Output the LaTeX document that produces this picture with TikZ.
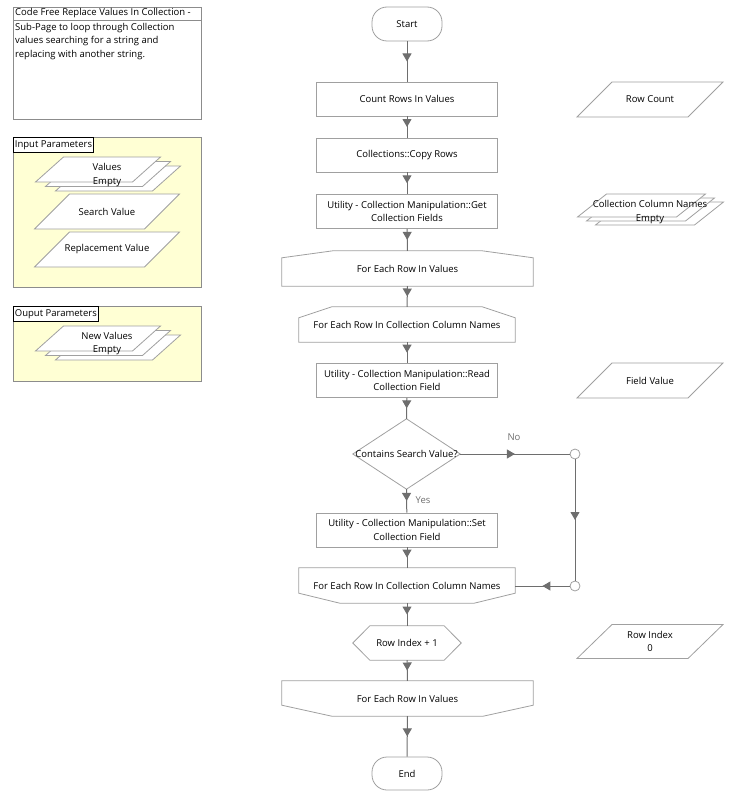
\documentclass[tikz,border=0pt]{standalone}
\usepackage{fontspec}
\setmainfont{Open Sans}
\usetikzlibrary{calc,decorations.markings,arrows.meta}
\definecolor{shp}{HTML}{A0A0A0}
\definecolor{con}{HTML}{6E6E6E}
\definecolor{pane}{HTML}{FFFFD4}
\definecolor{frm}{HTML}{8C8C8C}
\pgfdeclarelayer{bg}
\pgfdeclarelayer{shapes}
\pgfsetlayers{bg,shapes,main}
\newcommand\plgram[6][outline]{%
  \draw[#1] ({#2-#4/2-#6/2},{#3+#5/2}) -- ({#2-#4/2+#6/2},{#3-#5/2}) -- ({#2+#4/2+#6/2},{#3-#5/2}) -- ({#2+#4/2-#6/2},{#3+#5/2}) -- cycle;}
\newcommand\plgstack[7]{%
  \plgram{#1+#6}{#2+#7}{#3}{#4}{#5}%
  \plgram{#1}{#2}{#3}{#4}{#5}%
  \plgram{#1-#6}{#2-#7}{#3}{#4}{#5}}
\tikzset{
  every node/.style={font=\fontsize{9.5}{13.5}\selectfont, text=black},
  box/.style={draw=shp, fill=white, line width=0.8pt, minimum width=181pt, minimum height=34pt, align=center, inner sep=0pt},
  ghost/.style={draw=none, inner sep=0pt, align=center},
  outline/.style={draw=shp, fill=white, line width=0.8pt},
  flow/.style={draw=con, line width=1pt, postaction={decorate},
    decoration={markings, mark=at position 0.5 with {\arrow{Triangle[width=9pt,length=8pt]}}}},
  joint/.style={draw=shp, fill=white, circle, minimum size=10pt, inner sep=0pt, line width=0.8pt},
  lbl/.style={text=con},
  panebox/.style={draw=frm, fill=pane, line width=0.8pt},
  tagbox/.style={draw=black, fill=white, line width=0.8pt, inner sep=1.5pt, anchor=north west, minimum height=15pt},
}
\begin{document}
\begin{tikzpicture}[x=1pt,y=-1pt]
\useasboundingbox (0,0) rectangle (736,800);
% description box
\draw[draw=frm, line width=0.8pt] (13,7) rectangle (201,119);
\draw[draw=frm, line width=0.8pt] (13,20) -- (201,20);
\node[ghost, anchor=west] (ttl) at (15,13.5) {Code Free Replace Values In Collection -};
\node[ghost, anchor=north west, align=left] (desc) at (15,23) {Sub-Page to loop through Collection\\values searching for a string and\\replacing with another string.};
% panes
\begin{pgfonlayer}{bg}
\draw[panebox] (13,137) rectangle (201,287);
\draw[panebox] (13,306) rectangle (201,381);
\end{pgfonlayer}
\node[tagbox] (intag) at (13,137) {Input Parameters};
\node[tagbox] (outtag) at (13,306) {Ouput Parameters};
% input / output data
\node[ghost] (vals) at (107,175) {Values\\Empty};
\node[ghost] (srch) at (107,211.5) {Search Value};
\node[ghost] (repl) at (107,249.5) {Replacement Value};
\node[ghost] (newv) at (107,343.5) {New Values\\Empty};
% right data items
\node[ghost] (rcount) at (650,99.5) {Row Count};
\node[ghost] (cnames) at (650,212) {Collection Column Names\\Empty};
\node[ghost] (fval) at (650,380.5) {Field Value};
\node[ghost] (ridx) at (650,641.5) {Row Index\\0};
% main flow
\node[box, minimum width=70pt, rounded corners=15pt] (start) at (407,24) {Start};
\node[box] (count) at (407,99) {Count Rows In Values};
\node[box] (copy) at (407,155) {Collections::Copy Rows};
\node[box] (getf) at (407,211.5) {Utility - Collection Manipulation::Get\\Collection Fields};
\node[ghost, minimum width=251pt, minimum height=35pt] (loopa) at (407.5,268.5) {For Each Row In Values};
\node[ghost, minimum width=216pt, minimum height=35pt] (loopb) at (407,324.5) {For Each Row In Collection Column Names};
\node[box] (readf) at (407,380.5) {Utility - Collection Manipulation::Read\\Collection Field};
\node[ghost, minimum width=107pt, minimum height=70pt] (dec) at (406.5,454) {};
\node[ghost] (dectxt) at (406.5,454) {Contains Search Value?};
\node[box] (setf) at (407,530) {Utility - Collection Manipulation::Set\\Collection Field};
\node[ghost, minimum width=216pt, minimum height=35pt] (loopbend) at (407,585.5) {For Each Row In Collection Column Names};
\node[ghost, minimum width=108pt, minimum height=34pt] (incr) at (407,643) {Row Index + 1};
\node[ghost, minimum width=251pt, minimum height=35pt] (loopaend) at (407.5,698.5) {For Each Row In Values};
\node[box, minimum width=70pt, minimum height=33pt, rounded corners=15pt] (finish) at (407,773.5) {End};
\node[joint] (c1) at (575,454) {};
\node[joint] (c2) at (575,586) {};
% shapes
\begin{pgfonlayer}{shapes}
\plgstack{108}{174}{97}{25}{28}{10}{4.5}
\plgram{107}{211.5}{110}{35}{35}
\plgram{107}{249.5}{110}{35}{35}
\plgstack{108}{343}{97}{25}{28}{10}{4.5}
\plgram{650}{99.5}{111}{35}{35}
\plgstack{650.5}{209.5}{99}{23}{29}{9}{4}
\plgram{650}{380.5}{111}{35}{35}
\plgram{650}{641.5}{111}{34}{35}
\draw[outline] (loopa.south west) -- ($(loopa.north west)+(0,7)$) -- ($(loopa.north west)+(51,0)$) -- ($(loopa.north east)+(-51,0)$) -- ($(loopa.north east)+(0,7)$) -- (loopa.south east) -- cycle;
\draw[outline] (loopb.south west) -- ($(loopb.north west)+(0,11)$) -- ($(loopb.north west)+(33,0)$) -- ($(loopb.north east)+(-33,0)$) -- ($(loopb.north east)+(0,11)$) -- (loopb.south east) -- cycle;
\draw[outline] (dec.north) -- (dec.east) -- (dec.south) -- (dec.west) -- cycle;
\draw[outline] (loopbend.north west) -- ($(loopbend.south west)+(0,-10)$) -- ($(loopbend.south west)+(41,0)$) -- ($(loopbend.south east)+(-41,0)$) -- ($(loopbend.south east)+(0,-10)$) -- (loopbend.north east) -- cycle;
\draw[outline] (incr.west) -- ($(incr.north west)+(17,0)$) -- ($(incr.north east)+(-17,0)$) -- (incr.east) -- ($(incr.south east)+(-17,0)$) -- ($(incr.south west)+(17,0)$) -- cycle;
\draw[outline] (loopaend.north west) -- ($(loopaend.south west)+(0,-11)$) -- ($(loopaend.south west)+(50,0)$) -- ($(loopaend.south east)+(-50,0)$) -- ($(loopaend.south east)+(0,-11)$) -- (loopaend.north east) -- cycle;
\end{pgfonlayer}
% connectors
\draw[flow] (start) -- (count);
\draw[flow] (count) -- (copy);
\draw[flow] (copy) -- (getf);
\draw[flow] (getf) -- (loopa);
\draw[flow] (loopa) -- (loopb);
\draw[flow] (loopb) -- (readf);
\draw[flow] (readf) -- (dec.north);
\draw[flow] (dec.south) -- (setf);
\draw[flow] (dec.east) -- (c1);
\draw[flow] (c1) -- (c2);
\draw[flow] (c2) -- (c2 -| loopbend.east);
\draw[flow] (setf) -- (loopbend);
\draw[flow] (loopbend) -- (incr);
\draw[flow] (incr) -- (loopaend);
\draw[flow] (loopaend) -- (finish);
\node[lbl] (nolbl) at (514,437) {No};
\node[lbl] (yeslbl) at (423,500) {Yes};
\end{tikzpicture}
\end{document}
